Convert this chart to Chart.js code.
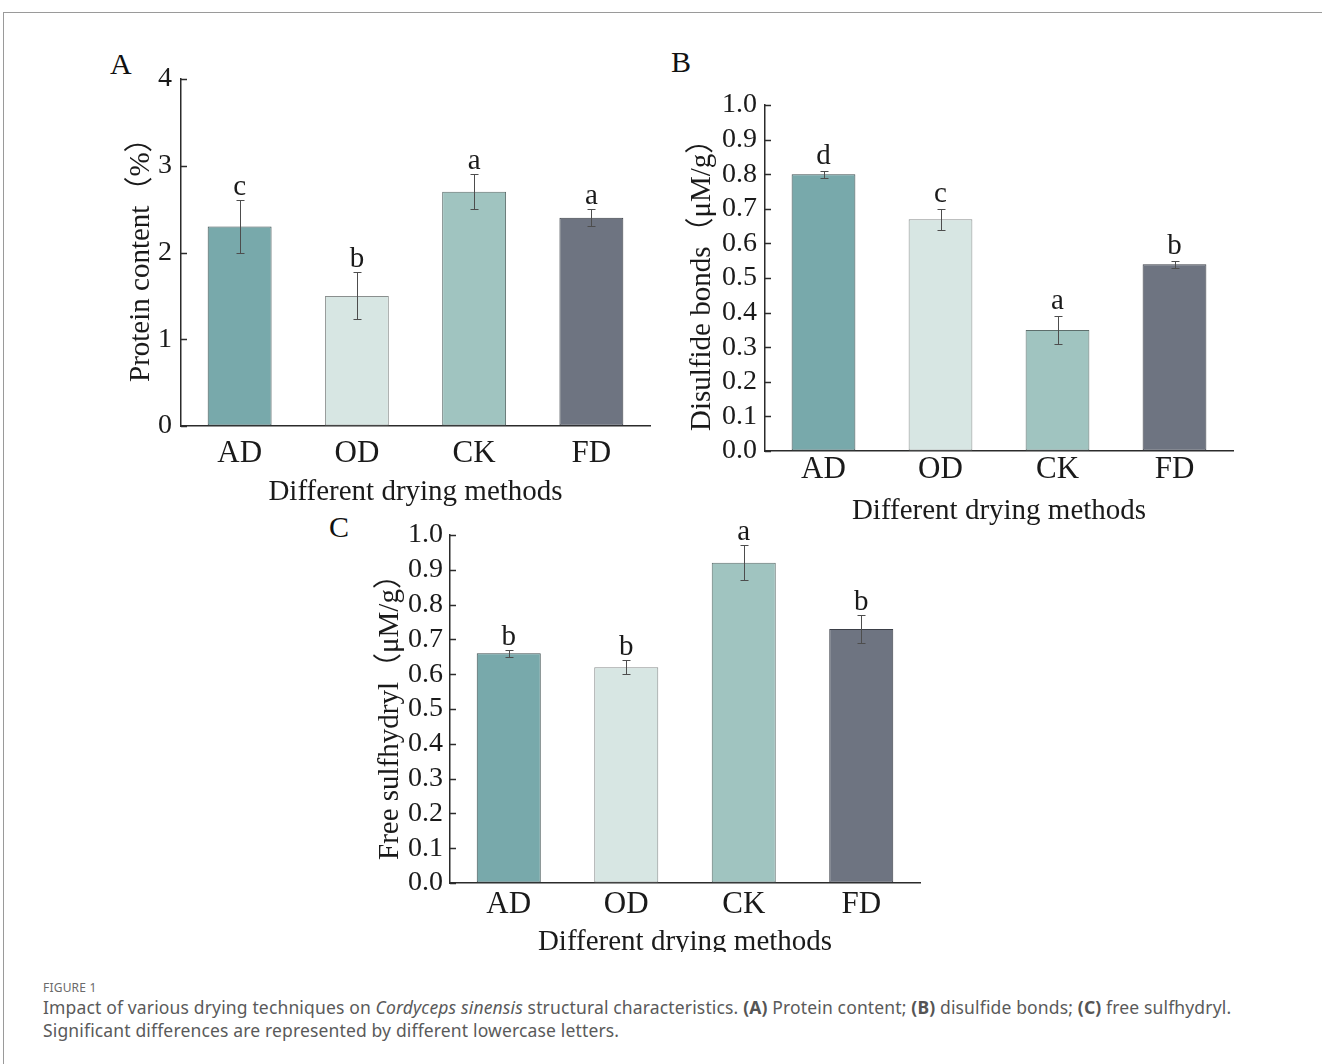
<!DOCTYPE html>
<html>
<head>
<meta charset="utf-8">
<script src="https://cdn.jsdelivr.net/npm/chart.js@4.4.1/dist/chart.umd.min.js"></script>
<style>
  html, body { margin: 0; padding: 0; background: #fff; }
  body { width: 1322px; height: 1064px; position: relative; overflow: hidden; }
  .frame-top { position: absolute; left: 3px; top: 12px; width: 1319px; height: 0; border-top: 1px solid #9a9a9a; }
  .frame-left { position: absolute; left: 3px; top: 12px; width: 0; height: 1052px; border-left: 1px solid #9a9a9a; }
  .panel { position: absolute; overflow: hidden; }
  .panel canvas { position: absolute; left: 0; top: 0; }
  .letter { position: absolute; font-family: 'Liberation Serif', serif; font-size: 30px; color: #111; line-height: 1; }
  .fig-label { position: absolute; left: 43px; top: 979px; font-family: 'Noto Sans', sans-serif; font-size: 12px; color: #6a6a6a; letter-spacing: 0.2px; }
  .caption { position: absolute; left: 43px; top: 996px; width: 1270px; font-family: 'Noto Sans', sans-serif; font-size: 17.5px; letter-spacing: 0.15px; line-height: 23px; color: #5a5a5a; white-space: nowrap; }
  .caption b { font-weight: 700; color: #555; }
</style>
</head>
<body>
<div class="frame-top"></div>
<div class="frame-left"></div>

<div class="letter" style="left:110px; top:49px;">A</div>
<div class="letter" style="left:671px; top:47px;">B</div>
<div class="letter" style="left:329px; top:512px;">C</div>

<div class="panel" style="left:100px; top:40px; width:570px; height:480px;"><canvas id="chartA" width="570" height="480"></canvas></div>
<div class="panel" style="left:660px; top:40px; width:600px; height:500px;"><canvas id="chartB" width="600" height="500"></canvas></div>
<div class="panel" style="left:320px; top:500px; width:620px; height:452px;"><canvas id="chartC" width="620" height="480"></canvas></div>

<div class="fig-label">FIGURE 1</div>
<div class="caption">Impact of various drying techniques on <i>Cordyceps sinensis</i> structural characteristics. <b>(A)</b> Protein content; <b>(B)</b> disulfide bonds; <b>(C)</b> free sulfhydryl.<br>Significant differences are represented by different lowercase letters.</div>

<script>
// Drying methods on the x axis
const categories = ['AD', 'OD', 'CK', 'FD'];

// (A) protein content, %
const proteinValues = [2.3, 1.5, 2.7, 2.4];
const proteinErrors = [0.3, 0.27, 0.2, 0.1];
const proteinLetters = ['c', 'b', 'a', 'a'];
const proteinTicks = [0, 1, 2, 3, 4];

// (B) disulfide bonds, µM/g
const disulfideValues = [0.80, 0.67, 0.35, 0.54];
const disulfideErrors = [0.01, 0.03, 0.04, 0.01];
const disulfideLetters = ['d', 'c', 'a', 'b'];

// (C) free sulfhydryl, µM/g
const sulfhydrylValues = [0.66, 0.62, 0.92, 0.73];
const sulfhydrylErrors = [0.01, 0.02, 0.05, 0.04];
const sulfhydrylLetters = ['b', 'b', 'a', 'b'];

const fractionTicks = [0.0, 0.1, 0.2, 0.3, 0.4, 0.5, 0.6, 0.7, 0.8, 0.9, 1.0];

const barColors = ['#78a9ab', '#d7e6e3', '#a0c4c0', '#6e7481'];
const barBorders = ['#3f4f50', '#8a8f8e', '#5d6e6c', '#3b3f47'];

const SERIF = "'Liberation Serif', 'Noto Sans CJK SC', serif";
const AXIS = '#2b2b2b';
const TEXT = '#1a1a1a';

// Inward y ticks, error bars, significance letters and the rotated y title
const panelMarks = {
  id: 'panelMarks',
  afterDatasetsDraw(chart, args, opts) {
    const { ctx, chartArea } = chart;
    const y = chart.scales.y;
    const meta = chart.getDatasetMeta(0);
    const vals = chart.data.datasets[0].data;
    ctx.save();
    ctx.strokeStyle = AXIS;
    ctx.lineWidth = 1.5;
    y.ticks.forEach(t => {
      const py = Math.round(y.getPixelForValue(t.value)) + 0.5;
      ctx.beginPath();
      ctx.moveTo(chartArea.left, py);
      ctx.lineTo(chartArea.left + 6, py);
      ctx.stroke();
    });
    ctx.strokeStyle = '#4d4d4d';
    ctx.lineWidth = 1;
    ctx.fillStyle = TEXT;
    ctx.font = opts.letterSize + 'px ' + SERIF;
    ctx.textAlign = 'center';
    ctx.textBaseline = 'alphabetic';
    meta.data.forEach((bar, i) => {
      const cx = Math.round(bar.x) + 0.5;
      const top = Math.round(y.getPixelForValue(vals[i] + opts.errors[i])) + 0.5;
      const bot = Math.round(y.getPixelForValue(vals[i] - opts.errors[i])) + 0.5;
      ctx.beginPath();
      ctx.moveTo(cx, top); ctx.lineTo(cx, bot);
      ctx.moveTo(cx - 4, top); ctx.lineTo(cx + 4, top);
      ctx.moveTo(cx - 4, bot); ctx.lineTo(cx + 4, bot);
      ctx.stroke();
      ctx.fillText(opts.letters[i], bar.x, top - opts.letterGap);
    });
    ctx.restore();

    // y title: name followed by the bracketed unit
    const t = opts.yTitle;
    ctx.save();
    ctx.translate(t.x, t.bottom);
    ctx.rotate(-Math.PI / 2);
    ctx.fillStyle = TEXT;
    ctx.textAlign = 'left';
    ctx.textBaseline = 'middle';
    ctx.font = t.size + 'px ' + SERIF;
    ctx.fillText(t.name + t.unit, 0, 0);
    ctx.restore();
  }
};

function buildChart(id, p) {
  const ctx = document.getElementById(id);
  return new Chart(ctx, {
    type: 'bar',
    data: {
      labels: categories,
      datasets: [{
        data: p.values,
        backgroundColor: barColors,
        borderColor: barBorders,
        borderWidth: 1,
        borderSkipped: false,
        barPercentage: 0.545,
        categoryPercentage: 1.0
      }]
    },
    options: {
      responsive: false,
      animation: false,
      devicePixelRatio: 1,
      layout: { padding: { left: 0, top: p.padTop, right: p.padRight, bottom: 0 } },
      plugins: {
        legend: { display: false },
        tooltip: { enabled: false },
        panelMarks: { errors: p.errors, letters: p.letters, letterSize: p.letterSize, letterGap: p.letterGap, yTitle: p.yTitle }
      },
      scales: {
        x: {
          type: 'category',
          grid: { display: false, drawTicks: false },
          border: { display: true, color: AXIS, width: 1.5 },
          ticks: { color: TEXT, font: { family: SERIF, size: p.catSize }, padding: p.catPad },
          title: { display: true, text: 'Different drying methods', color: TEXT,
                   font: { family: SERIF, size: p.titleSize }, padding: { top: 0, bottom: p.xTitlePad } },
          afterFit(s) { s.height = p.xHeight; }
        },
        y: {
          min: p.min, max: p.max,
          afterBuildTicks(s) { s.ticks = p.ticks.map(v => ({ value: v })); },
          grid: { display: true, drawOnChartArea: false, drawTicks: false },
          border: { display: true, color: AXIS, width: 1.5 },
          ticks: { color: TEXT, font: { family: SERIF, size: p.tickSize }, padding: p.tickPad, autoSkip: false,
                   callback: v => p.decimals ? Number(v).toFixed(p.decimals) : String(v) },
          title: { display: false },
          afterFit(s) { s.width = p.yWidth; }
        }
      }
    },
    plugins: [panelMarks]
  });
}

buildChart('chartA', {
  values: proteinValues, errors: proteinErrors, letters: proteinLetters,
  ticks: proteinTicks, min: 0, max: 4, decimals: 0,
  yTitle: { name: 'Protein content', unit: '（%）', x: 41, bottom: 342, size: 29 },
  padTop: 39, padRight: 20, yWidth: 81, xHeight: 94,
  tickSize: 28, tickPad: 9, catSize: 31, titleSize: 29, letterSize: 29, letterGap: 6,
  catPad: 9, xTitlePad: 10
});

buildChart('chartB', {
  values: disulfideValues, errors: disulfideErrors, letters: disulfideLetters,
  ticks: fractionTicks, min: 0, max: 1, decimals: 1,
  yTitle: { name: 'Disulfide bonds', unit: '（μM/g）', x: 42.5, bottom: 391, size: 29 },
  padTop: 65, padRight: 27, yWidth: 105, xHeight: 89,
  tickSize: 28, tickPad: 8, catSize: 31, titleSize: 29, letterSize: 29, letterGap: 8,
  catPad: 0, xTitlePad: 11
});

buildChart('chartC', {
  values: sulfhydrylValues, errors: sulfhydrylErrors, letters: sulfhydrylLetters,
  ticks: fractionTicks, min: 0, max: 1, decimals: 1,
  yTitle: { name: 'Free sulfhydryl', unit: '（μM/g）', x: 70, bottom: 360, size: 29 },
  padTop: 35, padRight: 20, yWidth: 130, xHeight: 97,
  tickSize: 28, tickPad: 7, catSize: 31, titleSize: 29, letterSize: 29, letterGap: 6,
  catPad: 3, xTitlePad: 20
});
</script>
</body>
</html>
